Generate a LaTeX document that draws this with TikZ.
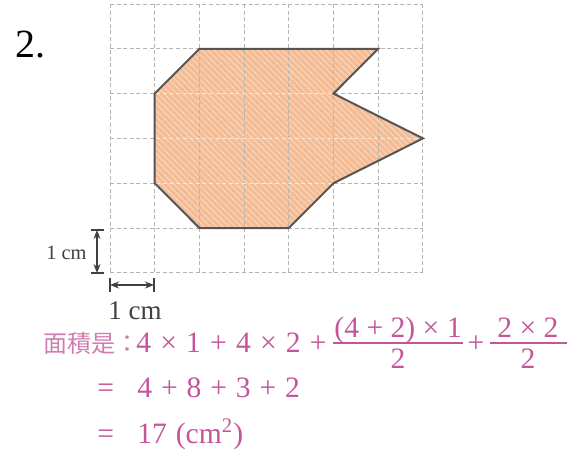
\documentclass[tikz,border=0pt]{standalone}
\usepackage{fontspec}
\setmainfont{Liberation Serif}
\newfontfamily\cjk{Noto Sans CJK TC}
\usetikzlibrary{arrows.meta,patterns.meta}
\definecolor{gridc}{HTML}{B5B5B5}
\definecolor{shapefill}{HTML}{F4BC94}
\definecolor{hatch}{HTML}{F9D5BC}
\definecolor{edgec}{HTML}{555555}
\definecolor{pinkc}{HTML}{C4559A}
\definecolor{cjkc}{HTML}{D27DB2}
\definecolor{darkc}{HTML}{404040}
\begin{document}
\begin{tikzpicture}[x=0.5pt,y=-0.5pt,
  gridline/.style={gridc, line width=0.5pt, dash pattern=on 2pt off 1.3pt},
  innerline/.style={hatch!60!white, line width=0.6pt, dash pattern=on 2pt off 1.3pt},
  outline/.style={edgec, line width=1pt, line join=miter},
  dimarrow/.style={darkc, line width=0.6pt, {Stealth[length=4.5pt,width=3.5pt]}-{Stealth[length=4.5pt,width=3.5pt]}},
  dimbar/.style={darkc, line width=0.6pt},
  formula/.style={pinkc, font=\fontsize{14.8}{18}\selectfont, inner sep=0pt},
  fracbar/.style={pinkc, line width=0.6pt},
  plain/.style={inner sep=0pt},
]
\useasboundingbox[fill=white] (0,0) rectangle (580,452);

\begin{scope}[shift={(110,4)}, x=22.35pt, y=-22.4pt]
  \coordinate (A) at (2,1);
  \coordinate (B) at (6,1);
  \coordinate (C) at (5,2);
  \coordinate (D) at (7,3);
  \coordinate (E) at (5,4);
  \coordinate (F) at (4,5);
  \coordinate (G) at (2,5);
  \coordinate (H) at (1,4);
  \coordinate (I) at (1,2);
  \fill[shapefill] (A)--(B)--(C)--(D)--(E)--(F)--(G)--(H)--(I)--cycle;
  \fill[pattern={Lines[angle=-45,distance=2.2pt,line width=0.55pt]}, pattern color=hatch]
    (A)--(B)--(C)--(D)--(E)--(F)--(G)--(H)--(I)--cycle;
  \foreach \i in {0,...,7} \draw[gridline] (\i,0) -- (\i,6);
  \foreach \j in {0,...,6} \draw[gridline] (0,\j) -- (7,\j);
  \begin{scope}
    \clip (A)--(B)--(C)--(D)--(E)--(F)--(G)--(H)--(I)--cycle;
    \foreach \j in {1,...,5} \draw[innerline] (0,\j) -- (7,\j);
  \end{scope}
  \draw[outline] (A)--(B)--(C)--(D)--(E)--(F)--(G)--(H)--(I)--cycle;
\end{scope}

% dimension arrows
\coordinate (vt) at (97,230);
\coordinate (vb) at (97,273);
\draw[dimarrow] (vt) -- (vb);
\draw[dimbar] (vt) ++(-6,0) -- ++(13,0);
\draw[dimbar] (vb) ++(-6,0) -- ++(13,0);
\coordinate (hl) at (110,285);
\coordinate (hr) at (154,285);
\draw[dimarrow] (hl) -- (hr);
\draw[dimbar] (hl) ++(0,-7) -- ++(0,14);
\draw[dimbar] (hr) ++(0,-7) -- ++(0,14);

% labels
\node[plain, anchor=base west, font=\fontsize{20}{24}\selectfont] (num) at (15,57) {2.};
\node[plain, anchor=base east, darkc, font=\fontsize{10.2}{12}\selectfont] (cmv) at (87,259) {1 cm};
\node[plain, anchor=base west, darkc, font=\fontsize{13.5}{16}\selectfont] (cmh) at (108,319) {1 cm};

% formula line 1
\node[formula, anchor=base west, cjkc, font=\cjk\fontsize{12}{14}\selectfont] (lbl) at (43,352) {面積是：};
\node[formula, anchor=base west] (l1) at (136,352) {\spaceskip=0.31em 4 × 1 + 4 × 2 +};
% fraction 1
\coordinate (f1l) at (333,343);
\coordinate (f1r) at (463,343);
\draw[fracbar] (f1l) -- (f1r);
\node[formula, anchor=base] (f1n) at (398,337) {(4 + 2) × 1};
\node[formula, anchor=base] (f1d) at (398,368) {2};
\node[formula, anchor=base] (p1) at (476,352) {+};
% fraction 2
\coordinate (f2l) at (490,343);
\coordinate (f2r) at (567,343);
\draw[fracbar] (f2l) -- (f2r);
\node[formula, anchor=base] (f2n) at (528,337) {2 × 2};
\node[formula, anchor=base] (f2d) at (528,368) {2};
% line 2
\node[formula, anchor=base west] (eq1) at (97,397) {=};
\node[formula, anchor=base west] (l2) at (137,397) {\spaceskip=0.3em 4 + 8 + 3 + 2};
% line 3
\node[formula, anchor=base west] (eq2) at (97,443) {=};
\node[formula, anchor=base west] (l3) at (137,443) {17\hspace{0.3em}(cm\textsuperscript{2})};
\end{tikzpicture}
\end{document}
